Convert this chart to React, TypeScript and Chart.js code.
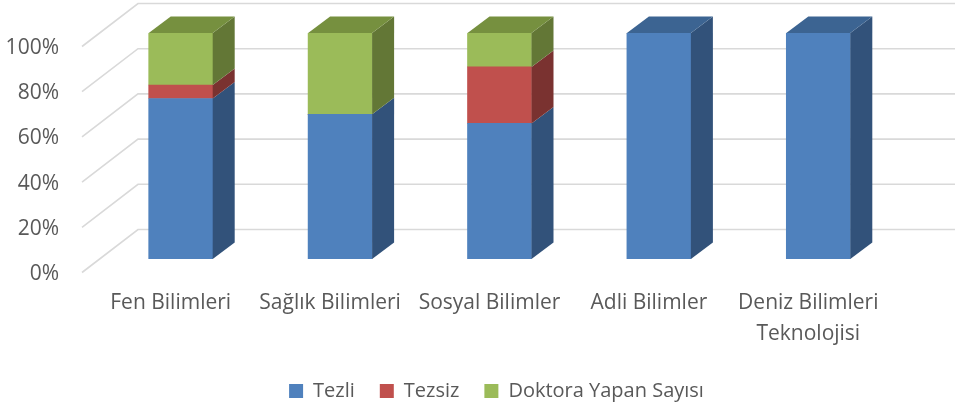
import React, { useEffect, useRef } from 'react';
import { Chart, registerables } from 'chart.js';

Chart.register(...registerables);

const categories: (string | string[])[] = [
  'Fen Bilimleri',
  'Sağlık Bilimleri',
  'Sosyal Bilimler',
  'Adli Bilimler',
  ['Deniz Bilimleri', 'Teknolojisi'],
];
const seriesNames = ['Tezli', 'Tezsiz', 'Doktora Yapan Sayısı'];
const tezli = [71, 64, 60, 100, 100];
const tezsiz = [6, 0, 25, 0, 0];
const doktora = [23, 36, 15, 0, 0];
const yTicks = [0, 20, 40, 60, 80, 100];

const frontColors = ['#4F81BD', '#C0504D', '#9BBB59'];
const sideColors = ['#32527A', '#7A3230', '#637736'];
const topColors = ['#3C6492', '#96403D', '#76903F'];

const DX = 22;
const DY = 16.5;
const FONT = "'Open Sans', sans-serif";
const TEXT = '#595959';

const threeD = {
  id: 'threeD',
  beforeDatasetsDraw(chart: any) {
    const { ctx, chartArea, scales } = chart;
    const y = scales.y;
    ctx.save();
    ctx.strokeStyle = '#D9D9D9';
    ctx.lineWidth = 1.6;
    for (const v of yTicks) {
      const py = y.getPixelForValue(v);
      ctx.beginPath();
      ctx.moveTo(chartArea.left - 19, py + 13.5);
      ctx.lineTo(chartArea.left + 37, py - 29.5);
      ctx.lineTo(chart.width, py - 29.5);
      ctx.stroke();
    }
    ctx.restore();
  },
  afterDatasetsDraw(chart: any) {
    const { ctx } = chart;
    const n = chart.data.labels.length;
    ctx.save();
    for (let i = 0; i < n; i++) {
      let topInfo: any = null;
      chart.data.datasets.forEach((ds: any, d: number) => {
        const val = ds.data[i];
        if (!val) return;
        const el = chart.getDatasetMeta(d).data[i];
        const { x, y, base, width } = el.getProps(['x', 'y', 'base', 'width'], true);
        const left = x - width / 2;
        const right = x + width / 2;
        const top = Math.min(y, base);
        const bottom = Math.max(y, base);
        ctx.fillStyle = sideColors[d];
        ctx.beginPath();
        ctx.moveTo(right, bottom);
        ctx.lineTo(right, top);
        ctx.lineTo(right + DX, top - DY);
        ctx.lineTo(right + DX, bottom - DY);
        ctx.closePath();
        ctx.fill();
        topInfo = { left, right, top, d };
      });
      if (topInfo) {
        const { left, right, top, d } = topInfo;
        ctx.fillStyle = topColors[d];
        ctx.beginPath();
        ctx.moveTo(left, top);
        ctx.lineTo(right, top);
        ctx.lineTo(right + DX, top - DY);
        ctx.lineTo(left + DX, top - DY);
        ctx.closePath();
        ctx.fill();
      }
    }
    ctx.restore();
  },
};

export default function App() {
  const ref = useRef<HTMLCanvasElement>(null);
  useEffect(() => {
    document.body.style.margin = '0';
    document.body.style.overflow = 'hidden';
    const chart = new Chart(ref.current!, {
      type: 'bar',
      data: {
        labels: categories as any,
        datasets: [tezli, tezsiz, doktora].map((data, d) => ({
          label: seriesNames[d],
          data,
          backgroundColor: frontColors[d],
          borderWidth: 0,
          barThickness: 64,
        })),
      },
      options: {
        responsive: false,
        animation: false,
        layout: { padding: { left: 0, right: 0, top: 33, bottom: 0 } },
        plugins: {
          legend: {
            position: 'bottom',
            labels: {
              font: { family: FONT, size: 20 },
              color: TEXT,
              boxWidth: 14,
              boxHeight: 14,
              padding: 25,
            },
          },
          tooltip: { enabled: false },
        },
        scales: {
          x: {
            stacked: true,
            grid: { display: false, drawTicks: false },
            border: { display: false },
            ticks: {
              font: { family: FONT, size: 21, lineHeight: 1.45 },
              color: TEXT,
              maxRotation: 0,
              autoSkip: false,
              labelOffset: -10,
              padding: 29,
            },
            afterFit: (s: any) => {
              s.height = 97;
            },
          },
          y: {
            stacked: true,
            min: 0,
            max: 100,
            grid: { display: false, drawTicks: false },
            border: { display: false },
            ticks: {
              stepSize: 20,
              font: { family: FONT, size: 21 },
              color: TEXT,
              padding: 42,
              labelOffset: 15,
              callback: (v: any) => v + '%',
            },
            afterFit: (s: any) => {
              s.width = 101;
              s.paddingTop = 0;
              s.paddingBottom = 0;
            },
          },
          y2: {
            position: 'right',
            display: true,
            grid: { display: false, drawTicks: false },
            border: { display: false },
            ticks: { display: false },
            afterFit: (s: any) => {
              s.width = 95;
              s.paddingTop = 0;
              s.paddingBottom = 0;
            },
          },
        },
      },
      plugins: [threeD],
    } as any);
    return () => chart.destroy();
  }, []);
  return (
    <div style={{ position: 'absolute', left: 0, top: 0, width: 955, height: 405, overflow: 'hidden' }}>
      <canvas ref={ref} width={993} height={411} style={{ display: 'block' }} />
    </div>
  );
}
